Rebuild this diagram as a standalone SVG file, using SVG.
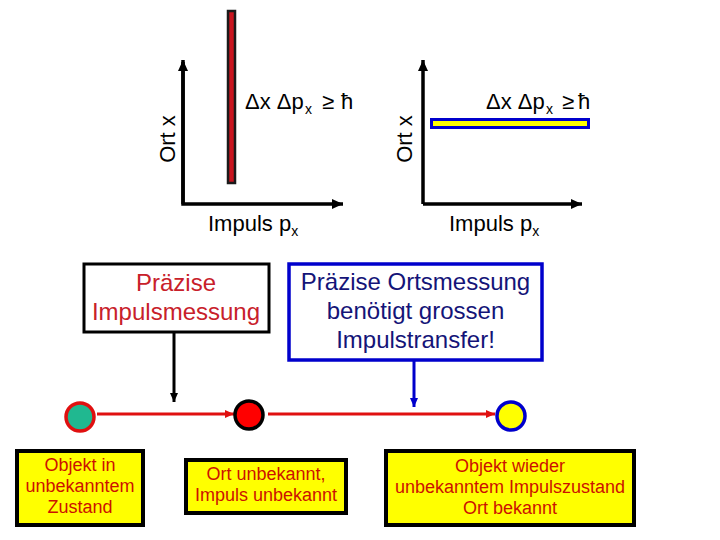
<svg xmlns="http://www.w3.org/2000/svg" width="720" height="540" viewBox="0 0 720 540">
<defs>
<style>
text{font-family:"Liberation Sans",Arial,sans-serif}
.ax{stroke:#000;stroke-width:3.5;fill:none}
.lbl{font-size:22px;fill:#000}
.big{font-size:24px;text-anchor:middle}
.small{font-size:18px;text-anchor:middle;fill:#cc1100}
.ybox{fill:#ffff00;stroke:#000;stroke-width:4}
</style>
<marker id="ahK" markerUnits="userSpaceOnUse" markerWidth="12" markerHeight="12" refX="11" refY="6" orient="auto"><path d="M0,1 L11,6 L0,11 Z" fill="#000"/></marker>
<marker id="ahk" markerUnits="userSpaceOnUse" markerWidth="10" markerHeight="10" refX="9" refY="5" orient="auto"><path d="M0,1 L9,5 L0,9 Z" fill="#000"/></marker>
<marker id="ahb" markerUnits="userSpaceOnUse" markerWidth="10" markerHeight="10" refX="9" refY="5" orient="auto"><path d="M0,1 L9,5 L0,9 Z" fill="#0000cc"/></marker>
<marker id="ahr" markerUnits="userSpaceOnUse" markerWidth="10" markerHeight="10" refX="9" refY="5" orient="auto"><path d="M0,1 L9,5 L0,9 Z" fill="#e01010"/></marker>
</defs>
<rect width="720" height="540" fill="#fff"/>

<g id="plot-left">
<polyline class="ax" points="183,62 183,204 343,204" marker-end="url(#ahK)"/>
<line x1="183" y1="204" x2="183" y2="60" class="ax" marker-end="url(#ahK)"/>
<rect x="228" y="11" width="7" height="172" fill="#c8141e" stroke="#1a1a1a" stroke-width="2.5"/>
<text class="lbl" x="245" y="109">Δx Δp</text>
<text x="305" y="114" style="font-size:14px">x</text>
<text class="lbl" x="322" y="109">≥</text>
<text class="lbl" x="341" y="109">ħ</text>
<text class="lbl" transform="translate(175,139) rotate(-90)" text-anchor="middle">Ort x</text>
<text class="lbl" x="208" y="231">Impuls p<tspan dy="5" style="font-size:14px">x</tspan></text>
</g>

<g id="plot-right">
<polyline class="ax" points="423,204 582,204" marker-end="url(#ahK)"/>
<line x1="423" y1="204" x2="423" y2="60" class="ax" marker-end="url(#ahK)"/>
<rect x="431.5" y="119.5" width="157" height="8" fill="#ffff00" stroke="#0000cc" stroke-width="3"/>
<text class="lbl" x="486" y="109">Δx Δp</text>
<text x="546" y="114" style="font-size:14px">x</text>
<text class="lbl" x="562" y="109">≥</text>
<text class="lbl" x="578" y="109">ħ</text>
<text class="lbl" transform="translate(412,139) rotate(-90)" text-anchor="middle">Ort x</text>
<text class="lbl" x="449" y="231">Impuls p<tspan dy="5" style="font-size:14px">x</tspan></text>
</g>

<g id="box-impuls">
<rect x="84" y="264" width="185" height="68" fill="#fff" stroke="#000" stroke-width="3"/>
<text class="big" x="176" y="291" fill="#c8202a">Präzise</text>
<text class="big" x="176" y="320" fill="#c8202a">Impulsmessung</text>
</g>

<g id="box-ort">
<rect x="289" y="264" width="253" height="96" fill="#fff" stroke="#0000cc" stroke-width="3.5"/>
<text class="big" x="415.5" y="290" fill="#141478">Präzise Ortsmessung</text>
<text class="big" x="415.5" y="319" fill="#141478">benötigt grossen</text>
<text class="big" x="415.5" y="348" fill="#141478">Impulstransfer!</text>
</g>

<g id="connectors">
<line x1="174" y1="333" x2="174" y2="402" stroke="#000" stroke-width="3" marker-end="url(#ahk)"/>
<line x1="414" y1="361" x2="414" y2="407" stroke="#0000cc" stroke-width="3" marker-end="url(#ahb)"/>
<line x1="97" y1="414" x2="234" y2="414" stroke="#e01010" stroke-width="3" marker-end="url(#ahr)"/>
<line x1="268" y1="414" x2="495" y2="414" stroke="#e01010" stroke-width="3" marker-end="url(#ahr)"/>
</g>

<g id="state-start">
<circle cx="80" cy="417" r="14" fill="#20b890" stroke="#e01010" stroke-width="3.5"/>
</g>
<g id="state-mid">
<circle cx="249" cy="415" r="14" fill="#ff0000" stroke="#000" stroke-width="3.5"/>
</g>
<g id="state-end">
<circle cx="511" cy="416" r="14" fill="#ffff00" stroke="#0000cc" stroke-width="3.5"/>
</g>

<g id="label-start">
<rect class="ybox" x="17" y="451" width="126" height="74"/>
<text class="small" x="80" y="471">Objekt in</text>
<text class="small" x="80" y="492">unbekanntem</text>
<text class="small" x="80" y="513">Zustand</text>
</g>
<g id="label-mid">
<rect class="ybox" x="186" y="460" width="160" height="53"/>
<text class="small" x="266" y="480">Ort unbekannt,</text>
<text class="small" x="266" y="501">Impuls unbekannt</text>
</g>
<g id="label-end">
<rect class="ybox" x="386" y="451" width="248" height="74"/>
<text class="small" x="510" y="472">Objekt wieder</text>
<text class="small" x="510" y="493">unbekanntem Impulszustand</text>
<text class="small" x="510" y="514">Ort bekannt</text>
</g>
</svg>
